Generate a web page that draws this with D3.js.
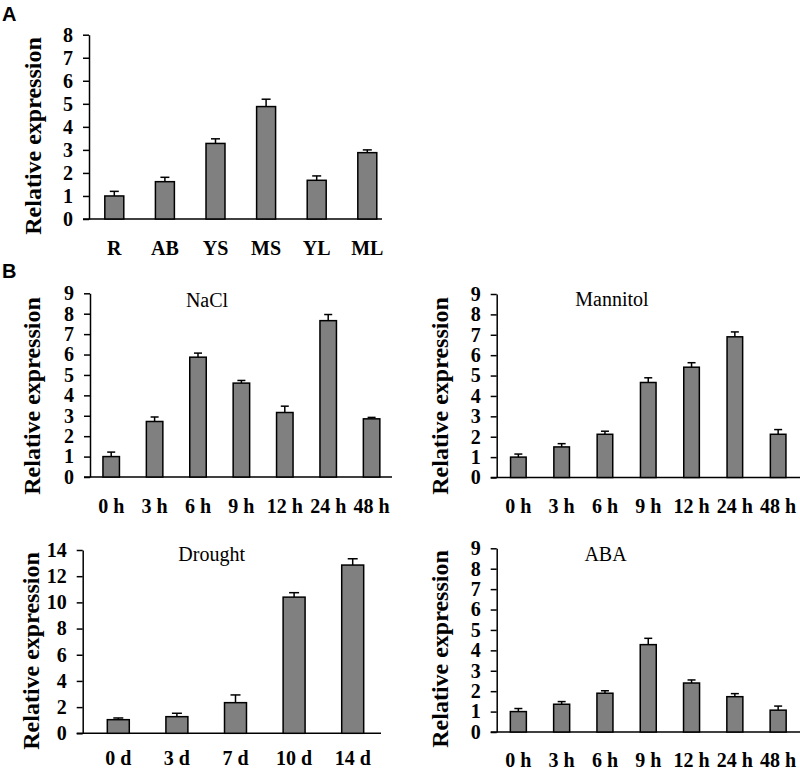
<!DOCTYPE html>
<html>
<head>
<meta charset="utf-8">
<script src="https://cdn.jsdelivr.net/npm/d3@7"></script>
<style>
  html, body { margin: 0; padding: 0; background: #fff; }
  svg { display: block; }
</style>
</head>
<body>
<svg id="chart" width="800" height="770"></svg>
<script>
// ---------- Data ----------
const tissueCats = ["R", "AB", "YS", "MS", "YL", "ML"];
const tissueVals = [1.0, 1.62, 3.28, 4.88, 1.68, 2.88];
const tissueErr  = [0.2, 0.19, 0.2, 0.32, 0.19, 0.12];

const hourCats = ["0 h", "3 h", "6 h", "9 h", "12 h", "24 h", "48 h"];
const naclVals = [1.0, 2.72, 5.87, 4.6, 3.16, 7.66, 2.85];
const naclErr  = [0.22, 0.22, 0.2, 0.13, 0.31, 0.3, 0.07];

const mannitolVals = [1.0, 1.5, 2.12, 4.66, 5.41, 6.9, 2.12];
const mannitolErr  = [0.15, 0.16, 0.15, 0.23, 0.22, 0.24, 0.23];

const dayCats = ["0 d", "3 d", "7 d", "10 d", "14 d"];
const droughtVals = [1.04, 1.27, 2.34, 10.4, 12.85];
const droughtErr  = [0.13, 0.26, 0.59, 0.34, 0.48];

const abaVals = [1.0, 1.36, 1.9, 4.28, 2.4, 1.73, 1.07];
const abaErr  = [0.15, 0.13, 0.12, 0.31, 0.15, 0.15, 0.2];

const yTicks9 = [0,1,2,3,4,5,6,7,8,9];
const yTicks8 = [0,1,2,3,4,5,6,7,8];
const yTicks14 = [0,2,4,6,8,10,12,14];

// ---------- Drawing ----------
const svg = d3.select("#chart");
const SERIF = '"Liberation Serif", "Times New Roman", serif';

function panel(cfg) {
  const g = svg.append("g");
  const x = d3.scaleBand().domain(cfg.cats).range([cfg.x0, cfg.x1])
    .paddingInner(cfg.pad).paddingOuter(cfg.pad / 2);
  const y = d3.scaleLinear().domain([0, cfg.ymax]).range([cfg.yb, cfg.yt]);

  // y axis
  const ya = g.append("g").attr("transform", `translate(${cfg.ax},0)`)
    .call(d3.axisLeft(y).tickValues(cfg.ticks).tickSize(6).tickSizeOuter(0).tickPadding(10));
  ya.select(".domain").attr("stroke", "#000").attr("stroke-width", 1.5);
  ya.selectAll(".tick line").attr("stroke", "#000").attr("stroke-width", 1.5);
  ya.selectAll(".tick text").attr("font-size", cfg.tickFs).attr("fill", "#000")
    .attr("font-family", SERIF).attr("font-weight", "bold");

  // x axis baseline
  g.append("line").attr("x1", cfg.ax - 6).attr("x2", cfg.xend)
    .attr("y1", y(0)).attr("y2", y(0)).attr("stroke", "#000").attr("stroke-width", 1.5);

  // x labels
  const xa = g.append("g").attr("transform", `translate(0,${cfg.labY})`)
    .call(d3.axisBottom(x).tickSize(0).tickPadding(0));
  xa.select(".domain").remove();
  xa.selectAll(".tick text").attr("font-size", cfg.tickFs).attr("fill", "#000")
    .attr("font-family", SERIF).attr("font-weight", "bold").attr("dy", "0");

  const data = cfg.cats.map((c, i) => ({c, v: cfg.vals[i], e: cfg.err[i]}));
  // error bars
  const eb = g.selectAll(".eb").data(data).enter().append("g");
  eb.append("line")
    .attr("x1", d => x(d.c) + x.bandwidth() / 2).attr("x2", d => x(d.c) + x.bandwidth() / 2)
    .attr("y1", d => y(d.v)).attr("y2", d => y(d.v + d.e))
    .attr("stroke", "#000").attr("stroke-width", 1.5);
  eb.append("line")
    .attr("x1", d => x(d.c) + x.bandwidth() / 2 - cfg.cap).attr("x2", d => x(d.c) + x.bandwidth() / 2 + cfg.cap)
    .attr("y1", d => y(d.v + d.e)).attr("y2", d => y(d.v + d.e))
    .attr("stroke", "#000").attr("stroke-width", 1.5);
  // bars
  g.selectAll(".bar").data(data).enter().append("rect")
    .attr("x", d => x(d.c)).attr("width", x.bandwidth())
    .attr("y", d => y(d.v)).attr("height", d => y(0) - y(d.v))
    .attr("fill", "#808080").attr("stroke", "#000").attr("stroke-width", 1.5);

  // y label
  g.append("text")
    .attr("transform", `translate(${cfg.ylx},${cfg.lyc}) rotate(-90)`)
    .attr("text-anchor", "middle").attr("font-family", SERIF).attr("font-weight", "bold")
    .attr("font-size", 24).attr("fill", "#000").text("Relative expression");

  if (cfg.title) {
    g.append("text").attr("x", cfg.tx).attr("y", cfg.ty).attr("text-anchor", "middle")
      .attr("font-family", SERIF).attr("font-size", 20).attr("fill", "#000").text(cfg.title);
  }
}

panel({cats: tissueCats, vals: tissueVals, err: tissueErr, ymax: 8, ticks: yTicks8,
  x0: 89, x1: 392.6, pad: 0.625, yb: 219, yt: 34.7, ax: 89, xend: 382, labY: 255,
  tickFs: 20, cap: 4.5, ylx: 41, lyc: 136});

panel({cats: hourCats, vals: naclVals, err: naclErr, ymax: 9, ticks: yTicks9,
  x0: 89.5, x1: 393.3, pad: 0.62, yb: 477, yt: 293.3, ax: 90, xend: 392, labY: 513,
  tickFs: 20, cap: 4, ylx: 40, lyc: 396, title: "NaCl", tx: 207, ty: 306.5});

panel({cats: hourCats, vals: mannitolVals, err: mannitolErr, ymax: 9, ticks: yTicks9,
  x0: 496.7, x1: 799.8, pad: 0.64, yb: 477.5, yt: 294, ax: 496.7, xend: 800, labY: 513,
  tickFs: 20, cap: 4, ylx: 448, lyc: 396, title: "Mannitol", tx: 612, ty: 306});

panel({cats: dayCats, vals: droughtVals, err: droughtErr, ymax: 14, ticks: yTicks14,
  x0: 89, x1: 382, pad: 0.625, yb: 733.3, yt: 550, ax: 82.7, xend: 381, labY: 765,
  tickFs: 20, cap: 5, ylx: 38.5, lyc: 651, title: "Drought", tx: 211.7, ty: 560.5});

panel({cats: hourCats, vals: abaVals, err: abaErr, ymax: 9, ticks: yTicks9,
  x0: 496.7, x1: 799.8, pad: 0.63, yb: 732, yt: 548.3, ax: 496.7, xend: 800, labY: 767,
  tickFs: 20, cap: 4, ylx: 448, lyc: 649, title: "ABA", tx: 605.5, ty: 560.5});

// Panel letters
svg.append("text").attr("x", 2).attr("y", 21).attr("font-family", '"Liberation Sans", Arial, sans-serif')
  .attr("font-weight", "bold").attr("font-size", 20).attr("fill", "#000").text("A");
svg.append("text").attr("x", 2).attr("y", 278).attr("font-family", '"Liberation Sans", Arial, sans-serif')
  .attr("font-weight", "bold").attr("font-size", 20).attr("fill", "#000").text("B");
</script>
</body>
</html>
